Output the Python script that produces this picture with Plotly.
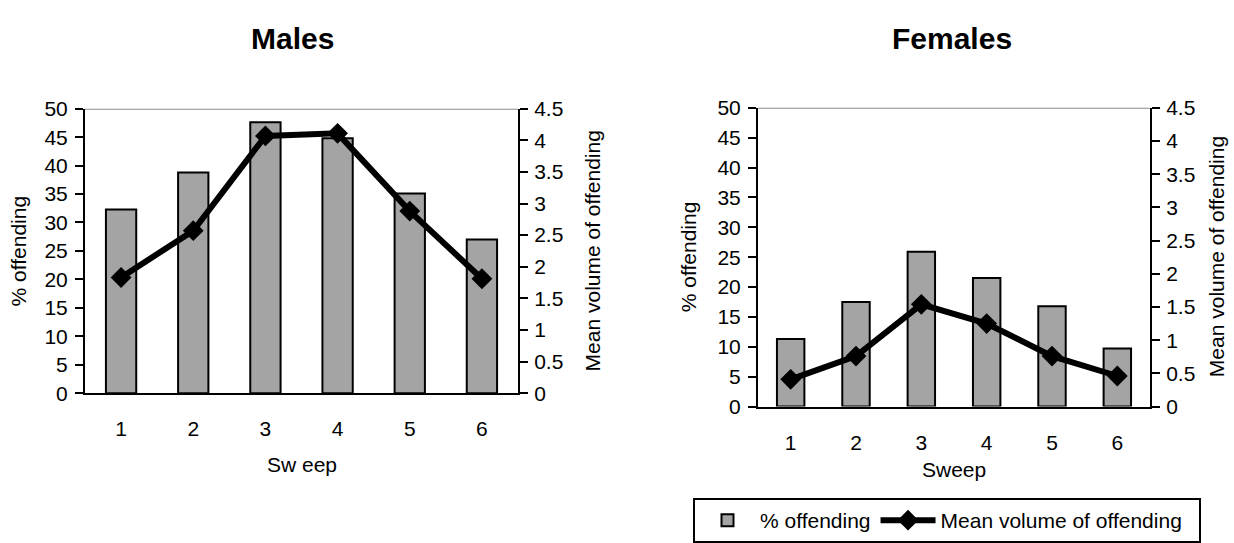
import plotly.graph_objects as go

# ---- data ----
sweeps = [1, 2, 3, 4, 5, 6]
sweep_labels = ["1", "2", "3", "4", "5", "6"]
males_pct = [32.3, 38.8, 47.6, 44.8, 35.1, 27.0]
males_mean = [1.83, 2.57, 4.07, 4.11, 2.88, 1.81]
females_pct = [11.3, 17.5, 25.9, 21.5, 16.8, 9.7]
females_mean = [0.41, 0.76, 1.54, 1.25, 0.76, 0.46]
left_ticks = [0, 5, 10, 15, 20, 25, 30, 35, 40, 45, 50]
right_ticks = [0, 0.5, 1, 1.5, 2, 2.5, 3, 3.5, 4, 4.5]
right_tick_text = ["0", "0.5", "1", "1.5", "2", "2.5", "3", "3.5", "4", "4.5"]

FONT = "Liberation Sans, Arial, sans-serif"
FS = 21
W, H = 1234, 543

bar_marker = dict(
    color="#999999",
    line=dict(color="black", width=2),
    pattern=dict(shape=".", fgcolor="#000000", bgcolor="#d2d2d2", size=2, solidity=0.5),
)

fig = go.Figure()

fig.add_trace(go.Bar(x=sweeps, y=males_pct, width=0.42, marker=bar_marker,
                     name="% offending", xaxis="x", yaxis="y", showlegend=False))
fig.add_trace(go.Scatter(x=sweeps, y=males_mean, mode="lines+markers",
                         line=dict(color="black", width=6),
                         marker=dict(symbol="diamond", size=16, color="black"),
                         name="Mean volume of offending", xaxis="x", yaxis="y2", showlegend=False))
fig.add_trace(go.Bar(x=sweeps, y=females_pct, width=0.42, marker=bar_marker,
                     name="% offending", xaxis="x2", yaxis="y3"))
fig.add_trace(go.Scatter(x=sweeps, y=females_mean, mode="lines+markers",
                         line=dict(color="black", width=6),
                         marker=dict(symbol="diamond", size=16, color="black"),
                         name="Mean volume of offending\u00a0\u00a0", xaxis="x2", yaxis="y4"))

# plot areas in pixels
males_px = (85, 518, 101, 398)
females_px = (758, 1150, 100, 412)

def xdom(p):
    return [p[0] / W, p[1] / W]

def ydom(p):
    return [1 - p[3] / H, 1 - p[2] / H]

xcommon = dict(range=[0.5, 6.5], tickvals=sweeps, ticktext=sweep_labels, showline=True,
               linecolor="black", linewidth=2, ticks="", showgrid=False, zeroline=False,
               tickfont=dict(family=FONT, size=FS, color="black"), ticklabelstandoff=16)
yleft = dict(range=[0, 50], tickvals=left_ticks, showline=True, linecolor="black", linewidth=2,
             ticks="outside", ticklen=8, tickwidth=2, tickcolor="black", showgrid=False,
             zeroline=False, tickfont=dict(family=FONT, size=FS, color="black"),
             ticklabelstandoff=3)
yright = dict(range=[0, 4.5], tickvals=right_ticks, ticktext=right_tick_text, showline=True,
              linecolor="black", linewidth=2, ticks="outside", ticklen=8, tickwidth=2,
              tickcolor="black", showgrid=False, zeroline=False, side="right",
              tickfont=dict(family=FONT, size=FS, color="black"), ticklabelstandoff=2)

fig.update_layout(
    width=W, height=H,
    margin=dict(l=0, r=0, t=0, b=0),
    paper_bgcolor="white", plot_bgcolor="white",
    font=dict(family=FONT, size=FS, color="black"),
    barmode="overlay",
    xaxis=dict(domain=xdom(males_px), anchor="y", **xcommon),
    yaxis=dict(domain=ydom(males_px), anchor="x", **yleft),
    yaxis2=dict(overlaying="y", anchor="x", **yright),
    xaxis2=dict(domain=xdom(females_px), anchor="y3", **xcommon),
    yaxis3=dict(domain=ydom(females_px), anchor="x2", **yleft),
    yaxis4=dict(overlaying="y3", anchor="x2", **yright),
    legend=dict(orientation="h", x=693 / W, xanchor="left", y=1 - 508 / H, yanchor="top",
                bordercolor="black", borderwidth=2, bgcolor="white",
                font=dict(family=FONT, size=FS, color="black"),
                itemwidth=55, tracegroupgap=0),
    showlegend=True,
)

# gray top border lines
fig.add_shape(type="line", xref="x domain", yref="y", x0=0, x1=1, y0=50, y1=50,
              line=dict(color="#8c8c8c", width=2), layer="below")
fig.add_shape(type="line", xref="x2 domain", yref="y3", x0=0, x1=1, y0=50, y1=50,
              line=dict(color="#8c8c8c", width=2), layer="below")

def ann(text, x, y, size=FS, bold=False, angle=0):
    fig.add_annotation(text=("<b>%s</b>" % text) if bold else text, x=x / W, y=1 - y / H,
                       xref="paper", yref="paper", showarrow=False, textangle=angle,
                       xanchor="center", yanchor="middle",
                       font=dict(family=FONT, size=size, color="black"))

ann("Males", 292, 28, size=30, bold=True)
ann("Females", 952, 28, size=30, bold=True)
ann("% offending", 18, 250, angle=-90)
ann("Mean volume of offending", 592, 250, angle=-90)
ann("Sw eep", 302, 472)
ann("% offending", 688, 256, angle=-90)
ann("Mean volume of offending", 1216, 256, angle=-90)
ann("Sweep", 954, 478)

fig.write_html("out.html")
